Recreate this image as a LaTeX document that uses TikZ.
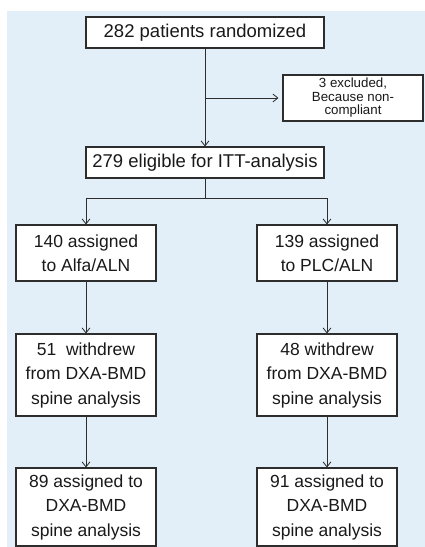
\documentclass[tikz,border=0pt]{standalone}
\usepackage{fontspec}
\setmainfont{Liberation Sans}
\usetikzlibrary{arrows.meta}
\definecolor{bgblue}{RGB}{226,239,249}
\definecolor{boxline}{RGB}{45,45,45}
\begin{document}
\begin{tikzpicture}[x=1pt,y=-1pt,
  box/.style={draw=boxline,line width=1.1pt,fill=white,inner sep=0pt,align=center,
    text=black!90,font=\fontsize{17.5}{24.5}\selectfont},
  bigbox/.style={box,font=\fontsize{18.5}{24.5}\selectfont},
  smallbox/.style={box,font=\fontsize{13.3}{13.5}\selectfont},
  conn/.style={draw=boxline,line width=0.8pt},
  arr/.style={conn,-{Straight Barb[length=5pt,width=8pt,line width=0.8pt]}}]
\useasboundingbox (0,0) rectangle (425,547);
\fill[white] (0,0) rectangle (425,547);
\fill[bgblue] (7,11) rectangle (425,547);
\node[bigbox,minimum width=238pt,minimum height=31pt] (rand) at (205,32.5) {282 patients randomized};
\node[smallbox,minimum width=140pt,minimum height=46pt] (excl) at (353,98) {3 excluded,\\Because non-\\compliant};
\node[bigbox,minimum width=238pt,minimum height=31pt] (itt) at (205,162.5) {279 eligible for ITT-analysis};
\node[box,minimum width=140pt,minimum height=56pt] (alfa) at (86,253) {140 assigned\\to Alfa/ALN};
\node[box,minimum width=140pt,minimum height=56pt] (plc) at (327,253) {139 assigned\\to PLC/ALN};
\node[box,minimum width=140pt,minimum height=82pt] (wl) at (86,375) {51\ \ withdrew\\from DXA-BMD\\spine analysis};
\node[box,minimum width=140pt,minimum height=82pt] (wr) at (327,375) {48 withdrew\\from DXA-BMD\\spine analysis};
\node[box,minimum width=140pt,minimum height=78pt] (fl) at (86,507) {89 assigned to\\DXA-BMD\\spine analysis};
\node[box,minimum width=140pt,minimum height=78pt] (fr) at (327,507) {91 assigned to\\DXA-BMD\\spine analysis};
\coordinate (br) at (rand.south |- excl.west);
\coordinate (split) at ([shift={(0,20)}]itt.south);
\draw[arr] (rand.south) -- (itt.north);
\draw[arr,shorten >=4pt] (br) -- (excl.west);
\draw[conn] (itt.south) -- (split);
\draw[arr] (split) -| (alfa.north);
\draw[arr] (split) -| (plc.north);
\draw[arr] (alfa.south) -- (wl.north);
\draw[arr] (plc.south) -- (wr.north);
\draw[arr] (wl.south) -- (fl.north);
\draw[arr] (wr.south) -- (fr.north);
\end{tikzpicture}
\end{document}
